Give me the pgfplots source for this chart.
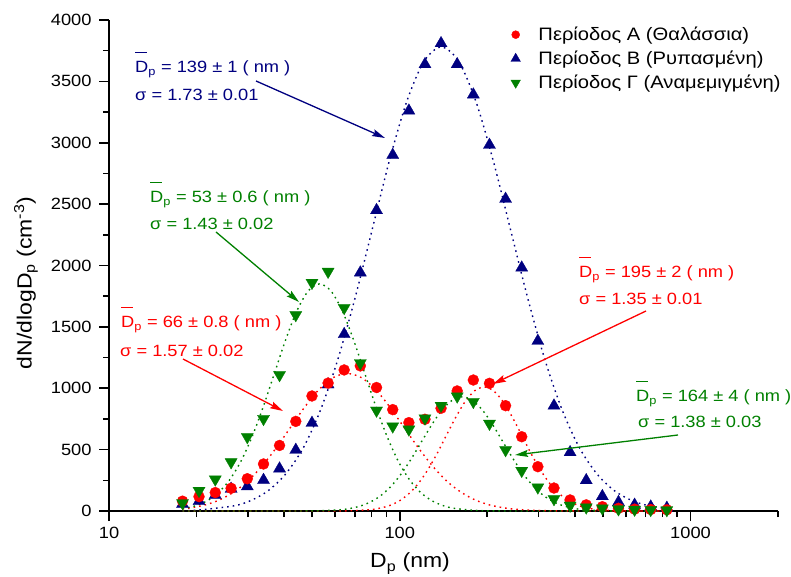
\documentclass[border=0pt]{standalone}
\usepackage{fontspec}
\setmainfont{Liberation Sans}[FakeStretch=1.12]
\usepackage{pgfplots}
\pgfplotsset{compat=1.18}
\usetikzlibrary{arrows.meta}

\definecolor{cnavy}{RGB}{0,0,128}
\definecolor{cgreen}{RGB}{0,128,0}
\definecolor{cred}{RGB}{255,0,0}

\newcommand{\txt}{\fontsize{16.3}{19}\selectfont}
\newcommand{\leg}{\fontsize{18}{21}\selectfont}
\newcommand{\lbl}{\fontsize{20.5}{24}\selectfont}
% D with an overbar (mean diameter)
\newcommand{\Dbar}{\leavevmode\rlap{\rule[1.2em]{0.72em}{0.09em}}D}

\begin{document}
\begin{tikzpicture}
\useasboundingbox (0,0) rectangle (791pt,577pt);
\begin{axis}[
  at={(109pt,66pt)}, anchor=south west,
  scale only axis, width=669pt, height=491pt,
  xmode=log, xmin=10, xmax=2000, ymin=0, ymax=4000,
  axis x line*=bottom, axis y line*=left,
  axis line style={-, line width=2pt, black},
  clip=false,
  xtick={10,100,1000}, xticklabels={10,100,1000},
  minor xtick={20,30,40,50,60,70,80,90,200,300,400,500,600,700,800,900,2000},
  ytick={0,500,...,4000},
  minor ytick={250,750,...,3750},
  tick align=outside,
  major tick length=10pt, minor tick length=6pt,
  every tick/.style={black, line width=1.6pt},
  /pgf/number format/assume math mode=true,
  /pgf/number format/1000 sep={},
  ticklabel style={font=\txt},
  xticklabel style={yshift=-3pt},
  yticklabel style={xshift=-4pt},
  legend style={draw=none, fill=none, font=\leg, at={(0.596,0.994)}, anchor=north west,
    legend cell align=left, row sep=5pt},
]
% legend keys (smaller than the plotted marks)
\addlegendimage{only marks, mark=*, mark size=4pt, cred, mark options={draw=cred, fill=cred}}
\addlegendentry{\hspace*{16pt}Περίοδος Α (Θαλάσσια)}
\addlegendimage{only marks, mark=triangle*, mark size=5.5pt, cnavy, mark options={draw=cnavy, fill=cnavy}}
\addlegendentry{\hspace*{16pt}Περίοδος Β (Ρυπασμένη)}
\addlegendimage{only marks, mark=triangle*, mark size=5.5pt, cgreen, mark options={draw=cgreen, fill=cgreen, rotate=180}}
\addlegendentry{\hspace*{16pt}Περίοδος Γ (Αναμεμιγμένη)}

% lognormal fits, period B
\addplot[cnavy, smooth, line width=1.4pt, dash pattern=on 1.6pt off 4pt, forget plot] coordinates {
(17.9,3.5)(20.4,8.3)(26.9,42)(30.8,86)(35.3,166)(40.5,301)(46.5,511)(53.3,818)(61.1,1227)(70.1,1730)
(80.4,2293)(92.1,2853)(105.7,3336)(121.2,3664)(139,3780)(159.4,3664)(182.8,3336)(209.7,2853)(240.4,2293)
(275.8,1730)(316.2,1227)(362.6,818)(415.9,511)(477,301)(547,166)(627.4,86)(719.5,42)(839.5,17.4)};

% lognormal fits, period A
\addplot[cred, smooth, line width=1.4pt, dash pattern=on 1.6pt off 4pt, forget plot] coordinates {
(17.9,17.1)(19.09,25.5)(21.37,49)(23.91,89)(26.77,152)(29.97,242)(33.54,364)(37.55,513)(42.03,679)
(47.05,845)(52.66,988)(58.95,1086)(66,1120)(73.88,1086)(82.72,988)(92.56,845)(103.6,679)(116,513)
(129.9,364)(145.3,242)(162.7,152)(182.1,89)(203.9,49)(228.2,25.5)(255.4,12.4)(320,2.5)(401.1,0.4)(840,0)};
\addplot[cred, smooth, line width=1.4pt, dash pattern=on 1.6pt off 4pt, forget plot] coordinates {
(17.9,0)(40,0)(58.7,0.3)(68.2,2.2)(79.3,11.2)(85.4,23)(92.1,44)(99.3,80)(107,137)(115.3,218)(124.3,328)
(134,462)(144.4,613)(155.7,762)(167.8,891)(180.9,979)(195,1010)(210.2,979)(226.6,891)(244.2,762)
(263.3,613)(283.8,462)(305.9,328)(329.6,218)(355.3,137)(383,80)(412.9,44)(444.9,23)(479.7,11.2)
(557.3,2.2)(647.5,0.3)(840,0)};

% lognormal fits, period C
\addplot[cgreen, smooth, line width=1.4pt, dash pattern=on 1.6pt off 4pt, forget plot] coordinates {
(17.9,18.5)(19.83,42)(21.68,81)(23.71,147)(25.93,250)(28.35,400)(31,601)(33.9,847)(37.07,1122)
(40.53,1396)(44.32,1633)(48.47,1793)(53,1850)(57.97,1793)(63.39,1633)(69.32,1396)(75.8,1122)
(82.87,847)(90.65,601)(99.1,400)(108.4,250)(118.5,147)(129.6,81)(141.7,42)(155,20.5)(185.3,4)
(221.6,0.6)(300,0)(840,0)};
\addplot[cgreen, smooth, line width=1.4pt, dash pattern=on 1.6pt off 4pt, forget plot] coordinates {
(17.9,0)(32,0)(45.2,0.3)(53.1,2)(62.4,10.3)(67.6,21)(73.3,41)(79.4,74)(86.1,126)(93.3,201)(101.1,302)
(109.6,426)(118.8,564)(128.8,702)(139.6,821)(151.3,901)(164,930)(177.8,901)(192.7,821)(208.8,702)
(226.3,564)(245.3,426)(265.9,302)(288.2,201)(312.4,126)(338.5,74)(366.9,41)(397.7,21)(431,10.3)
(506.3,2)(594.8,0.3)(840,0)};

% measured size distributions
\addplot[only marks, mark=triangle*, mark size=7pt, mark options={draw=cnavy, fill=cnavy, line width=0.3pt}, forget plot] coordinates {
(17.9,57)(20.4,80)(23.2,130)(26.3,180)(29.9,200)(34.0,252)(38.6,345)(43.9,497)(49.9,717)(56.7,1030)
(64.4,1440)(73.2,1942)(83.2,2450)(94.6,2900)(107.5,3261)(122.1,3639)(138.7,3810)(157.6,3639)(179.1,3392)
(203.5,2982)(231.2,2542)(262.7,1982)(298.5,1385)(339.2,858)(385.4,478)(437.9,250)(497.5,120)(565.3,72)
(642.3,50)(729.8,35)(829.2,25)};
\addplot[only marks, mark=*, mark size=5.5pt, mark options={draw=cred, fill=cred, line width=0.3pt}, forget plot] coordinates {
(17.9,80)(20.4,117)(23.2,150)(26.3,185)(29.9,263)(34.0,383)(38.6,534)(43.9,730)(49.9,937)(56.7,1042)
(64.4,1149)(73.2,1182)(83.2,1006)(94.6,826)(107.5,720)(122.1,747)(138.7,837)(157.6,978)(179.1,1067)
(203.5,1040)(231.2,858)(262.7,605)(298.5,361)(339.2,187)(385.4,90)(437.9,50)(497.5,35)(565.3,22)
(642.3,15)(729.8,12)(829.2,10)};
\addplot[only marks, mark=triangle*, mark size=7pt, mark options={draw=cgreen, fill=cgreen, line width=0.3pt, rotate=180}, forget plot] coordinates {
(17.9,65)(20.4,165)(23.2,258)(26.3,398)(29.9,603)(34.0,751)(38.6,1108)(43.9,1597)(49.9,1860)(56.7,1950)
(64.4,1655)(73.2,1205)(83.2,819)(94.6,690)(107.5,665)(122.1,755)(138.7,858)(157.6,934)(179.1,890)
(203.5,712)(231.2,497)(262.7,328)(298.5,193)(339.2,98)(385.4,45)(437.9,30)(497.5,22)(565.3,15)
(642.3,12)(729.8,10)(829.2,8)};
\end{axis}

% axis titles
\node[rotate=90, font=\lbl] at (26pt,294pt) {dN/dlogD\textsubscript{p} (cm\textsuperscript{-3})};
\node[anchor=base, font=\lbl] at (410pt,9pt) {D\textsubscript{p} (nm)};

% fit parameters of each mode
\begin{scope}[every node/.style={anchor=base west, font=\txt, inner sep=0pt}]
\node[text=cnavy] at (135pt,504pt) {\Dbar\textsubscript{p} = 139 ± 1 ( nm )};
\node[text=cnavy] at (135pt,476pt) {σ = 1.73 ± 0.01};
\node[text=cgreen] at (150pt,374pt) {\Dbar\textsubscript{p} = 53 ± 0.6 ( nm )};
\node[text=cgreen] at (150pt,347pt) {σ = 1.43 ± 0.02};
\node[text=cred] at (121pt,249pt) {\Dbar\textsubscript{p} = 66 ± 0.8 ( nm )};
\node[text=cred] at (120pt,220pt) {σ = 1.57 ± 0.02};
\node[text=cred] at (579pt,299pt) {\Dbar\textsubscript{p} = 195 ± 2 ( nm )};
\node[text=cred] at (579pt,272pt) {σ = 1.35 ± 0.01};
\node[text=cgreen] at (636pt,175pt) {\Dbar\textsubscript{p} = 164 ± 4 ( nm )};
\node[text=cgreen] at (638pt,149pt) {σ = 1.38 ± 0.03};
\end{scope}

\begin{scope}[line width=1.3pt]
\draw[cnavy, -{Stealth[length=13pt,width=7pt,inset=2pt]}] (256pt,496pt) -- (385pt,439pt);
\draw[cgreen, -{Stealth[length=13pt,width=7pt,inset=2pt]}] (216pt,345pt) -- (299pt,275pt);
\draw[cred, -{Stealth[length=13pt,width=7pt,inset=2pt]}] (183pt,218pt) -- (283pt,166pt);
\draw[cred, -{Stealth[length=13pt,width=7pt,inset=2pt]}] (646pt,266pt) -- (493pt,193pt);
\draw[cgreen, -{Stealth[length=13pt,width=7pt,inset=2pt]}] (678pt,142pt) -- (515pt,122pt);
\end{scope}
\end{tikzpicture}
\end{document}
